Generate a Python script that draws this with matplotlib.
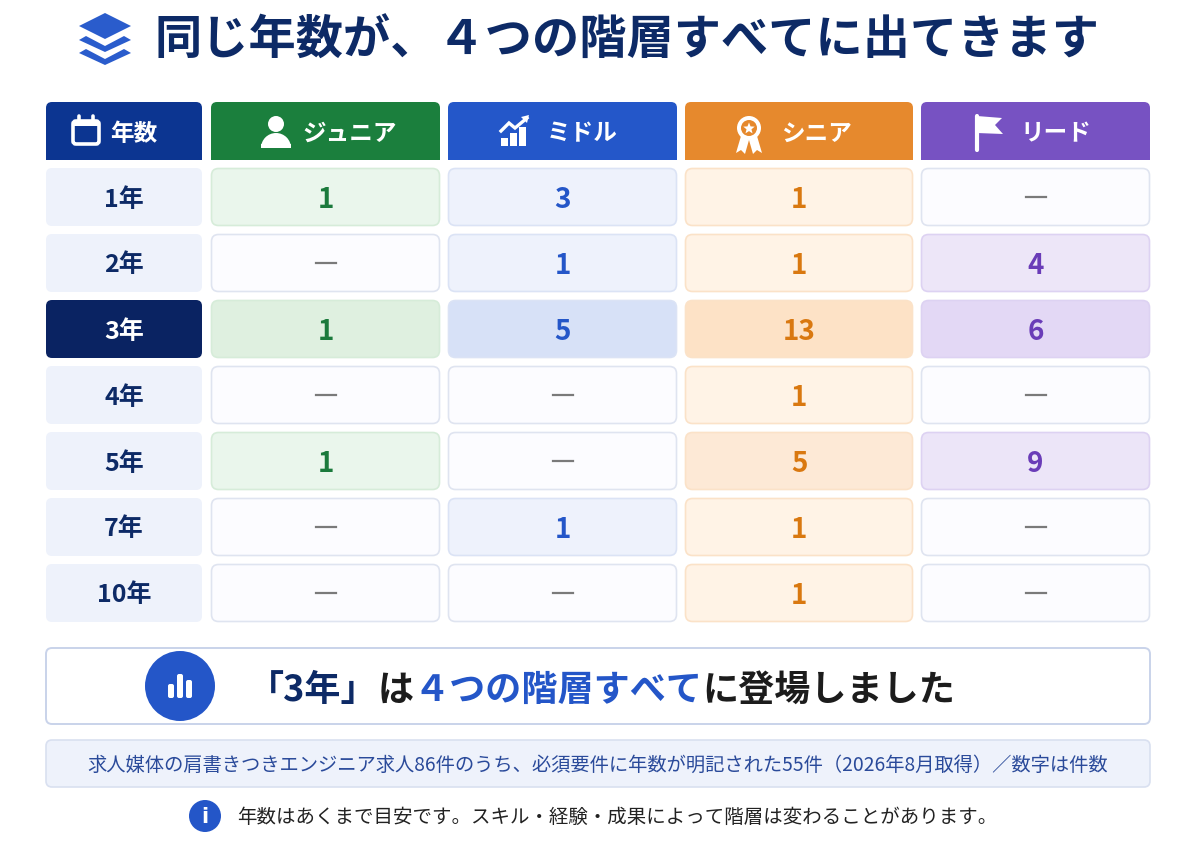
import matplotlib
matplotlib.use("Agg")
import matplotlib.pyplot as plt
from matplotlib.patches import FancyBboxPatch, Rectangle, Circle, Polygon, Wedge
import numpy as np

plt.rcParams['font.family'] = ['Noto Sans CJK JP', 'DejaVu Sans']

# ---------------- data ----------------
title = "同じ年数が、４つの階層すべてに出てきます"
col_labels = ["年数", "ジュニア", "ミドル", "シニア", "リード"]
years = ["1年", "2年", "3年", "4年", "5年", "7年", "10年"]
junior = [1, None, 1, None, 1, None, None]
middle = [3, 1, 5, None, None, 1, None]
senior = [1, 1, 13, 1, 5, 1, 1]
lead = [None, 4, 6, None, 9, None, None]
highlight_year = "3年"
callout_parts = [("「3年」", "#0d2a66"), ("は", "#1c1c1c"), ("４つの階層すべて", "#2456c8"), ("に登場しました", "#1c1c1c")]
source_note = "求人媒体の肩書きつきエンジニア求人86件のうち、必須要件に年数が明記された55件（2026年8月取得）／数字は件数"
info_note = "年数はあくまで目安です。スキル・経験・成果によって階層は変わることがあります。"

series = [junior, middle, senior, lead]
head_colors = ["#0c3591", "#1b7f3d", "#2457c9", "#e6892d", "#7752c2"]
text_colors = ["#1b7a3c", "#2456c8", "#d97810", "#6a3cb8"]
light_fill = ["#eaf6ec", "#eef2fc", "#fff3e6", "#ede6f8"]
mid_fill = ["#e4f3e6", "#e3eafa", "#fde9d6", "#ece5f8"]
strong_fill = ["#dff0e0", "#d7e1f7", "#fde2c6", "#e3d8f5"]
light_edge = ["#d6ecd9", "#dbe3f5", "#fbe2c8", "#ddd2f2"]

W, H = 1200, 841
fig = plt.figure(figsize=(W / 100, H / 100), dpi=100)
fig.patch.set_facecolor("white")
ax = fig.add_axes([0, 0, 1, 1])
ax.set_xlim(0, W)
ax.set_ylim(H, 0)
ax.axis("off")

DY = 2.5  # vertical nudge for CJK text centering


def rbox(x0, y0, x1, y1, fc, ec="none", lw=1.0, r=6, z=1):
    p = FancyBboxPatch((x0, y0), x1 - x0, y1 - y0,
                       boxstyle=f"round,pad=0,rounding_size={r}",
                       fc=fc, ec=ec, lw=lw, zorder=z)
    ax.add_patch(p)
    return p


# ---------------- title ----------------
cx, cy = 105, 38
for k, dy in enumerate([-12, 2, 15]):
    yy = cy + dy
    if k == 0:
        pts = [(cx - 26, yy), (cx, yy - 13), (cx + 26, yy), (cx, yy + 13)]
    else:
        pts = [(cx - 26, yy), (cx - 19, yy - 4), (cx, yy + 6), (cx + 19, yy - 4),
               (cx + 26, yy), (cx, yy + 12)]
    ax.add_patch(Polygon(pts, closed=True, fc="#2a5ccc", ec="none", zorder=3))
ax.text(155, 38 + DY, title, fontsize=34, fontweight="bold", color="#0d2a66",
        ha="left", va="center", zorder=3)

# ---------------- table ----------------
col_x = [(46, 202), (211, 440), (448, 677), (685, 913), (921, 1150)]
head_y = (102, 160)
row_top0, row_h, row_pitch = 168, 58, 66

for j, ((x0, x1), lab) in enumerate(zip(col_x, col_labels)):
    rbox(x0, head_y[0], x1, head_y[1], head_colors[j], r=6, z=2)
    ax.add_patch(Rectangle((x0, head_y[0] + 20), x1 - x0, head_y[1] - head_y[0] - 20,
                           fc=head_colors[j], ec="none", zorder=2))

hy = (head_y[0] + head_y[1]) / 2 + DY
# calendar
ax.add_patch(FancyBboxPatch((73, 121), 26, 23, boxstyle="round,pad=0,rounding_size=3",
                            fc="none", ec="white", lw=2.6, zorder=4))
ax.add_patch(Rectangle((73, 121), 26, 5, fc="white", ec="none", zorder=4))
ax.plot([79, 79], [116, 122], color="white", lw=2.6, solid_capstyle="round", zorder=4)
ax.plot([93, 93], [116, 122], color="white", lw=2.6, solid_capstyle="round", zorder=4)
ax.text(110, hy, col_labels[0], fontsize=17, fontweight="bold", color="white",
        ha="left", va="center", zorder=4)
# person
ax.add_patch(Circle((276, 124), 8, fc="white", ec="none", zorder=4))
ax.add_patch(Wedge((276, 148), 15, 180, 360, fc="white", ec="none", zorder=4))
ax.add_patch(Rectangle((261, 144), 30, 4, fc="white", ec="none", zorder=4))
ax.text(302, hy, col_labels[1], fontsize=17, fontweight="bold", color="white",
        ha="left", va="center", zorder=4)
# bar chart w/ arrow
for bx, bh in [(501, 8), (510, 13), (519, 19)]:
    ax.add_patch(Rectangle((bx, 146 - bh), 7, bh, fc="white", ec="none", zorder=4))
ax.plot([501, 509, 515, 527], [131, 123, 128, 118], color="white", lw=2.4, zorder=4,
        solid_joinstyle="miter")
ax.add_patch(Polygon([(529, 115), (521, 117), (527, 123)], closed=True, fc="white", ec="none", zorder=4))
ax.text(547, hy, col_labels[2], fontsize=17, fontweight="bold", color="white",
        ha="left", va="center", zorder=4)
# award
ax.add_patch(Polygon([(741, 136), (736, 153), (741, 150), (745, 154), (749, 140)], closed=True,
                     fc="white", ec="none", zorder=4))
ax.add_patch(Polygon([(757, 136), (762, 153), (757, 150), (753, 154), (749, 140)], closed=True,
                     fc="white", ec="none", zorder=4))
ax.add_patch(Circle((749, 128), 12, fc="white", ec="none", zorder=5))
ax.add_patch(Circle((749, 128), 8, fc=head_colors[3], ec="none", zorder=6))
ang = np.linspace(-np.pi / 2, 3 * np.pi / 2, 11)[:-1]
rr = np.where(np.arange(10) % 2 == 0, 6, 2.6)
ax.add_patch(Polygon(np.c_[749 + rr * np.cos(ang), 128.5 + rr * np.sin(ang)], closed=True,
                     fc="white", ec="none", zorder=7))
ax.text(781, hy, col_labels[3], fontsize=17, fontweight="bold", color="white",
        ha="left", va="center", zorder=4)
# flag
ax.plot([977, 977], [116, 150], color="white", lw=3, solid_capstyle="round", zorder=4)
ax.add_patch(Polygon([(977, 116), (1002, 118), (995, 125), (1003, 134), (977, 133)], closed=True,
                     fc="white", ec="none", zorder=4))
ax.text(1020, hy, col_labels[4], fontsize=17, fontweight="bold", color="white",
        ha="left", va="center", zorder=4)

# body rows
for i, yl in enumerate(years):
    y0 = row_top0 + i * row_pitch
    y1 = y0 + row_h
    ym = (y0 + y1) / 2
    hl = (yl == highlight_year)
    x0, x1 = col_x[0]
    if hl:
        rbox(x0, y0, x1, y1, "#0a2362", r=6, z=2)
        tc = "white"
    else:
        rbox(x0, y0, x1, y1, "#eef2fb", r=6, z=2)
        tc = "#0d2a66"
    ax.text((x0 + x1) / 2, ym + DY, yl, fontsize=18, fontweight="bold", color=tc,
            ha="center", va="center", zorder=4)
    for j, s in enumerate(series):
        x0, x1 = col_x[j + 1]
        v = s[i]
        if v is None:
            rbox(x0 + 0.5, y0 + 0.5, x1 - 0.5, y1 - 0.5, "#fcfcff", ec="#dfe4f0", lw=1.2, r=7, z=2)
            ax.plot([(x0 + x1) / 2 - 10, (x0 + x1) / 2 + 10], [ym, ym], color="#7a7a7a",
                    lw=1.6, zorder=4)
        else:
            if hl:
                fc = strong_fill[j]
            elif v >= 5:
                fc = mid_fill[j]
            else:
                fc = light_fill[j]
            rbox(x0 + 0.5, y0 + 0.5, x1 - 0.5, y1 - 0.5, fc, ec=light_edge[j], lw=1.2, r=7, z=2)
            ax.text((x0 + x1) / 2, ym + DY, str(v), fontsize=20, fontweight="bold",
                    color=text_colors[j], ha="center", va="center", zorder=4)

# ---------------- callout ----------------
rbox(46, 648, 1150, 724, "white", ec="#c9d3ea", lw=1.4, r=6, z=2)
ax.add_patch(Circle((180, 686), 35, fc="#2456c8", ec="none", zorder=3))
for bx, bh in [(168, 14), (177, 24), (186, 18)]:
    ax.add_patch(FancyBboxPatch((bx, 698 - bh), 6, bh, boxstyle="round,pad=0,rounding_size=2",
                                fc="white", ec="none", zorder=4))

fig.canvas.draw()
renderer = fig.canvas.get_renderer()
xpos = 248
inv = ax.transData.inverted()
for txt, col in callout_parts:
    t = ax.text(xpos, 688 + DY, txt, fontsize=26, fontweight="bold", color=col,
                ha="left", va="center", zorder=4)
    bb = t.get_window_extent(renderer=renderer)
    (xa, _), (xb, _) = inv.transform([(bb.x0, bb.y0), (bb.x1, bb.y1)])
    xpos = xb

# ---------------- source box ----------------
rbox(46, 740, 1150, 787, "#eef2fb", ec="#d9e0f0", lw=1.2, r=6, z=2)
ax.text(598, 764 + 1.5, source_note, fontsize=13.9, color="#2a4a9a", ha="center", va="center", zorder=4)

# ---------------- info note ----------------
ax.add_patch(Circle((205, 816), 16, fc="#2456c8", ec="none", zorder=3))
ax.text(205, 817, "i", fontsize=15, fontweight="bold", color="white", ha="center", va="center",
        family="DejaVu Sans", zorder=4)
ax.text(237, 816 + 1.5, info_note, fontsize=14.0, color="#222222", ha="left", va="center", zorder=4)

fig.savefig("out.png", dpi=100, facecolor="white")
